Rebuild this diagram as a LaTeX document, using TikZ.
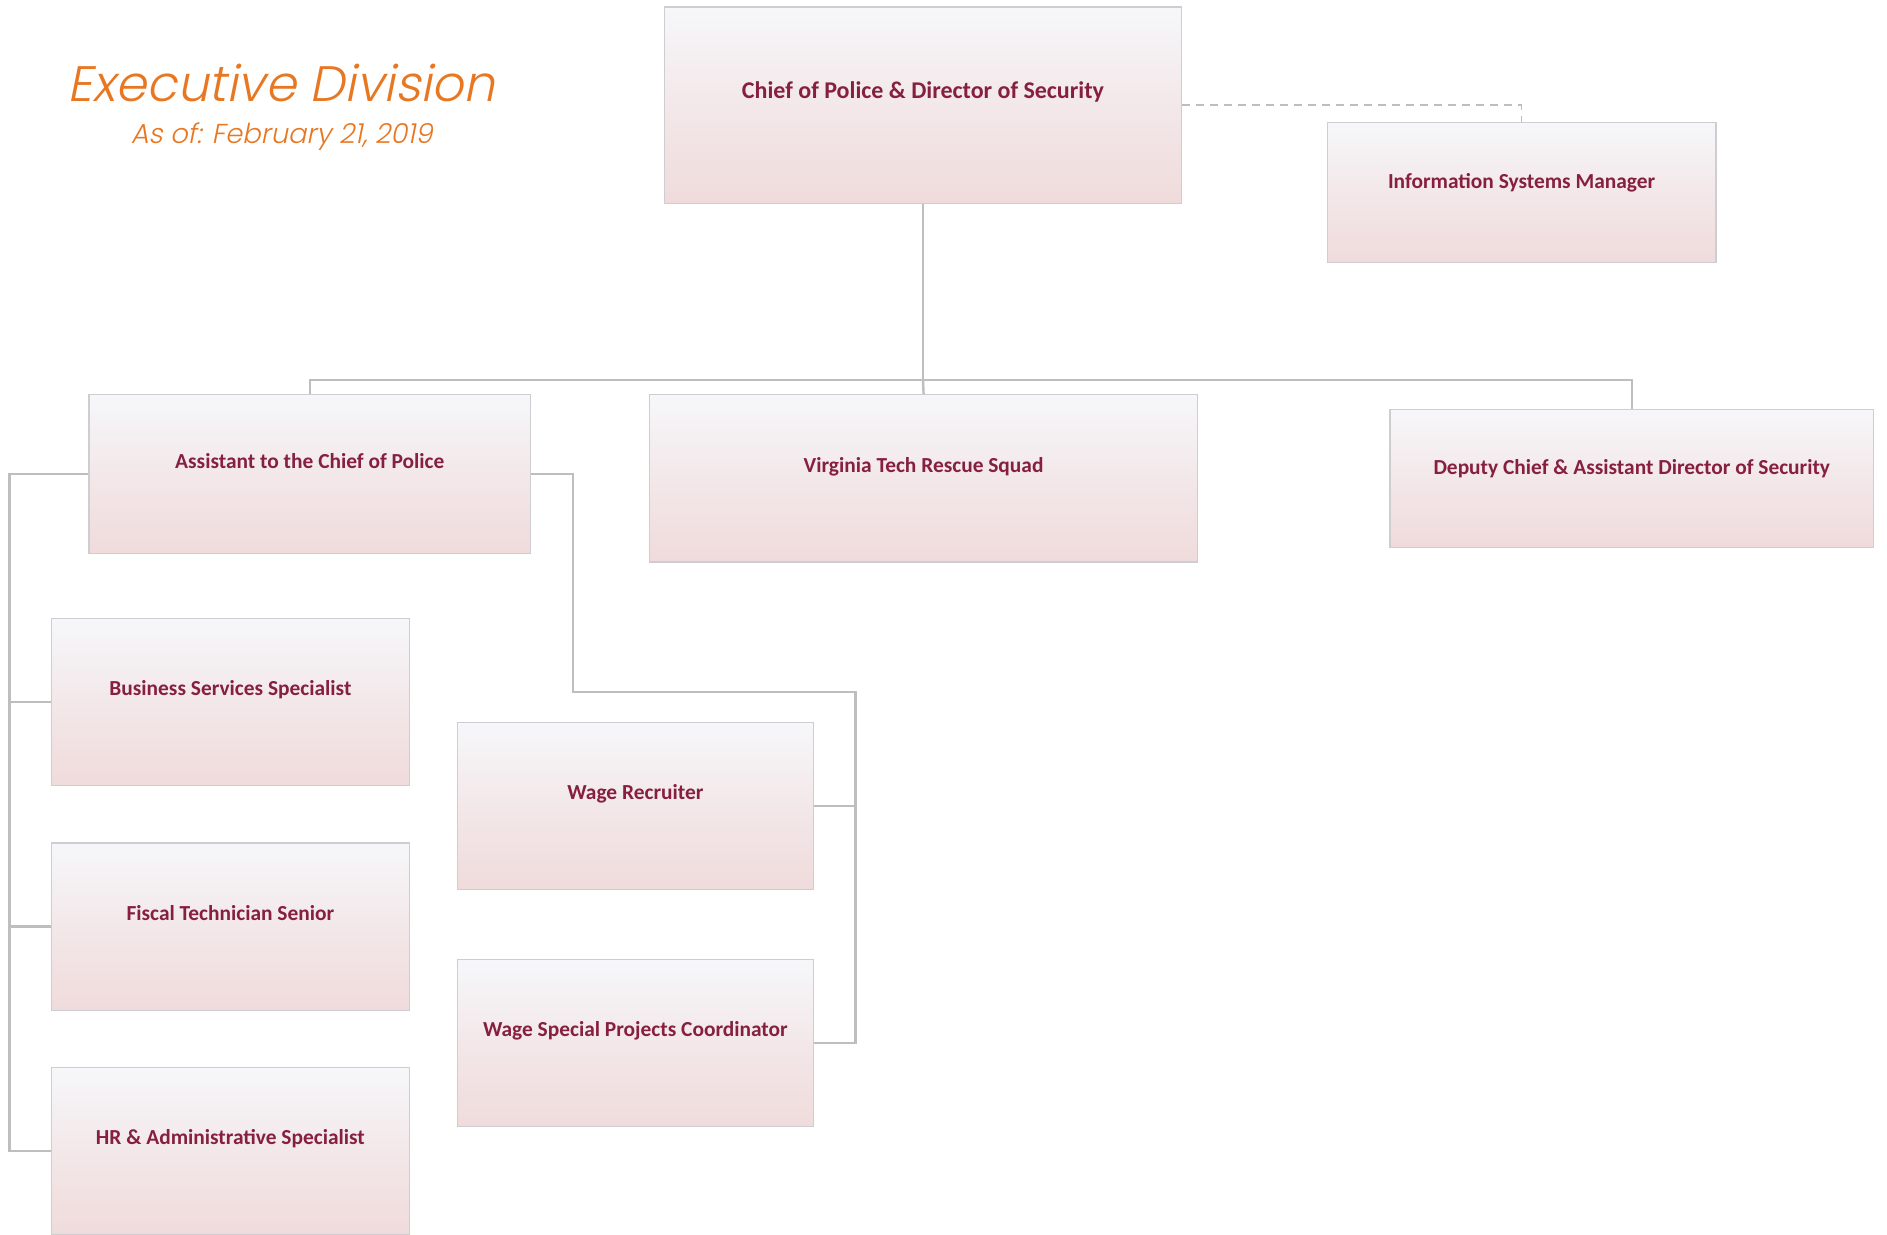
\documentclass[tikz,border=0pt]{standalone}
\usepackage{fontspec}
\setmainfont{Carlito}
\IfFontExistsTF{Poppins Light}
  {\newfontfamily\titlefont{Poppins Light}[FakeSlant=0.2]}
  {\newfontfamily\titlefont{Poppins}[FakeSlant=0.2]}

\definecolor{vtmaroon}{RGB}{134,31,65}
\definecolor{vtorange}{RGB}{232,119,34}
\definecolor{boxtop}{RGB}{246,247,250}
\definecolor{boxbot}{RGB}{240,219,219}
\definecolor{linegray}{RGB}{190,190,190}
\definecolor{boxline}{RGB}{205,205,210}

\begin{document}
\begin{tikzpicture}[x=1pt,y=-1pt,
  post/.style 2 args={draw=boxline, line width=0.6pt,
    top color=boxtop, bottom color=boxbot, middle color=boxbot!55!boxtop,
    text=vtmaroon, font=\bfseries\fontsize{10.7}{13}\selectfont,
    inner ysep=0pt, minimum width=#1,
    text height={0.42*#2+3.5pt}, text depth={0.58*#2-3.5pt}},
  link/.style={draw=linegray, line width=1.2pt},
  dotlink/.style={draw=linegray, line width=0.8pt, dash pattern=on 4pt off 3pt}]

  \useasboundingbox (0,0) rectangle (943.5,617.3);

  %% title
  \node[text=vtorange, font=\titlefont\fontsize{24.9}{29}\selectfont]
    (title) at (140.8,41.6) {Executive Division};
  \node[text=vtorange, font=\titlefont\fontsize{13.7}{16}\selectfont]
    (date) at (140.8,68.2) {As of: February 21, 2019};

  %% top
  \node[post={258.7pt}{98.1pt}, font=\bfseries\fontsize{12}{14}\selectfont,
    text height={0.42*98.1pt+4.6pt}, text depth={0.58*98.1pt-4.6pt}]
    (chief) at (461.5,52.6) {Chief of Police \& Director of Security};
  \node[post={194.3pt}{69.8pt}] (ism) at (760.8,96.3) {Information Systems Manager};

  %% second row
  \node[post={220.8pt}{79.4pt}] (asst) at (154.9,237.1) {Assistant to the Chief of Police};
  \node[post={273.8pt}{83.6pt}] (rescue) at (461.8,239.2) {Virginia Tech Rescue Squad};
  \node[post={241.9pt}{69.2pt}] (deputy) at (815.9,239.2) {Deputy Chief \& Assistant Director of Security};

  %% under the assistant, left
  \node[post={178.7pt}{83.6pt}] (biz) at (115.2,351.1) {Business Services Specialist};
  \node[post={178.7pt}{83.6pt}] (fiscal) at (115.2,463.3) {Fiscal Technician Senior};
  \node[post={178.7pt}{83.6pt}] (hr) at (115.2,575.5) {HR \& Administrative Specialist};

  %% under the assistant, right
  \node[post={178.1pt}{83.6pt}] (recruit) at (317.7,402.9) {Wage Recruiter};
  \node[post={178.1pt}{83.6pt}] (spc) at (317.7,521.4) {Wage Special Projects Coordinator};

  %% junctions
  \coordinate (bus) at (461.5,190.1);
  \coordinate (lbus) at (4.8,0);
  \coordinate (rdrop) at (286.4,346.0);
  \coordinate (rbus) at (427.8,346.0);

  %% chief to row
  \draw[link] (chief.south) -- (bus);
  \draw[link] (bus) -| (asst.north);
  \draw[link] (bus) -| (deputy.north);
  \draw[link] (bus) -- (rescue.north);
  \draw[dotlink] (chief.east) -| (ism.north);

  %% assistant to left column
  \draw[link] (asst.west) -| (lbus |- hr.west) -- (hr.west);
  \draw[link] (biz.west) -- (lbus |- biz.west);
  \draw[link] (fiscal.west) -- (lbus |- fiscal.west);

  %% assistant to right column
  \draw[link] (asst.east) -| (rdrop) -- (rbus) |- (spc.east);
  \draw[link] (recruit.east) -- (rbus |- recruit.east);

\end{tikzpicture}
\end{document}
